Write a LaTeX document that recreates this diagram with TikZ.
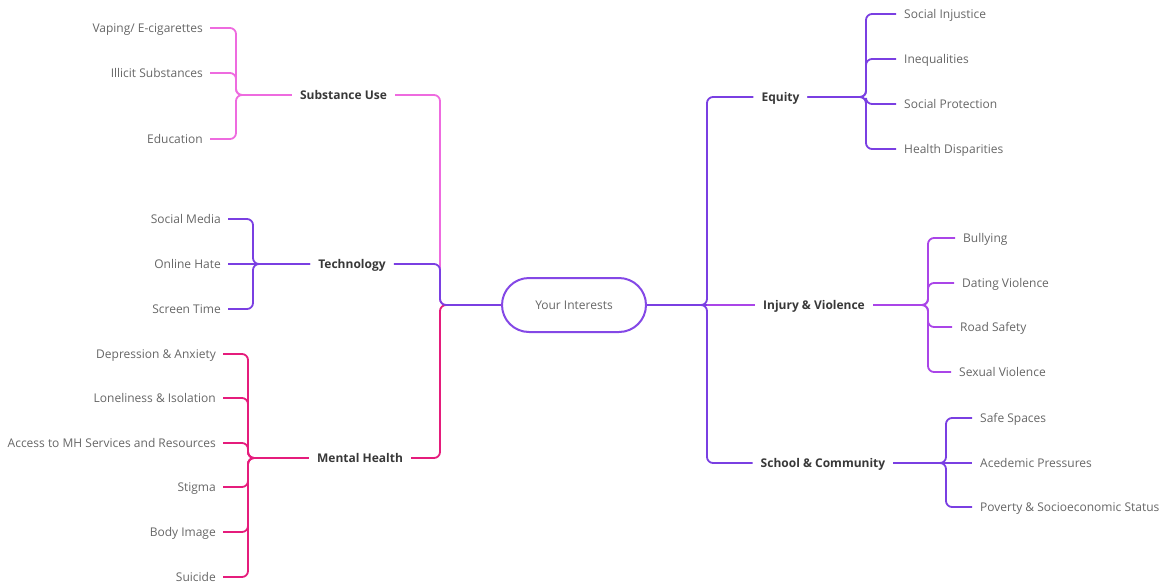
\documentclass[tikz,border=0pt]{standalone}
\usepackage{fontspec}
\setmainfont{Open Sans}
\definecolor{cSub}{HTML}{EE6BDF}
\definecolor{cTec}{HTML}{7A3FE2}
\definecolor{cMH}{HTML}{E51C7C}
\definecolor{cEq}{HTML}{7A3FE2}
\definecolor{cIV}{HTML}{AA45E8}
\definecolor{cSC}{HTML}{7A3FE2}
\definecolor{cCen}{HTML}{8448E6}
\definecolor{txtChild}{HTML}{666666}
\definecolor{txtCat}{HTML}{383838}
\begin{document}
\begin{tikzpicture}[x=1pt,y=-1pt,
  txtbox/.style={inner ysep=0pt,text height=8.4pt,text depth=0pt,font=\fontsize{12}{14}\selectfont},
  leafL/.style={txtbox,anchor=east,inner xsep=7pt,text=txtChild},
  leafR/.style={txtbox,anchor=west,inner xsep=8pt,text=txtChild},
  cat/.style={txtbox,inner xsep=8pt,text=txtCat,font=\fontsize{12}{14}\selectfont\bfseries},
  link/.style={line width=1.8pt,rounded corners=6pt},
  center/.style={draw=cCen,line width=2pt,rounded corners=27pt,minimum width=144pt,minimum height=54pt,text=txtChild,text height=8.4pt,text depth=0pt,font=\fontsize{12}{14}\selectfont}]
\useasboundingbox (0,0) rectangle (1163,584);
% centre
\node[center] (yi) at (574,305) {Your Interests};
\coordinate (ltj) at (440,305);
\coordinate (rtj) at (707,305);
% left categories
\node[cat] (su) at (343.5,95) {Substance Use};
\node[cat] (te) at (352,264) {Technology};
\node[cat] (mh) at (360,458) {Mental Health};
% right categories
\node[cat] (eq) at (780.5,97) {Equity};
\node[cat] (iv) at (814,305) {Injury \& Violence};
\node[cat] (sc) at (823,463) {School \& Community};
% joints
\coordinate (suj) at (236,95);
\coordinate (tej) at (253,264);
\coordinate (mhj) at (248,458);
\coordinate (eqj) at (866,97);
\coordinate (ivj) at (928,305);
\coordinate (scj) at (946,463);
% trunk links
\draw[link,cSub] (su.east) -| (ltj) -- (yi.west);
\draw[link,cMH] (mh.east) -| (ltj) -- (yi.west);
\draw[link,cTec] (te.east) -| (ltj) -- (yi.west);
\draw[link,cEq] (yi.east) -- (rtj) |- (eq.west);
\draw[link,cSC] (yi.east) -- (rtj) |- (sc.west);
\draw[link,cIV] (rtj) -- (iv.west);
\draw[link,cEq] (yi.east) -- (rtj);
% substance children
\node[leafL] (s1) at (210,28) {Vaping/ E-cigarettes};
\node[leafL] (s2) at (210,73) {Illicit Substances};
\node[leafL] (s3) at (210,139) {Education};
\foreach \n in {s1,s2,s3} \draw[link,cSub] (\n.east) -| (suj) -- (su.west);
% technology children
\node[leafL] (t1) at (228,219) {Social Media};
\node[leafL] (t2) at (228,264) {Online Hate};
\node[leafL] (t3) at (228,309) {Screen Time};
\foreach \n in {t1,t3} \draw[link,cTec] (\n.east) -| (tej) -- (te.west);
\draw[link,cTec] (t2.east) -- (te.west);
% mental health children
\node[leafL] (m1) at (223,354) {Depression \& Anxiety};
\node[leafL] (m2) at (223,398) {Loneliness \& Isolation};
\node[leafL] (m3) at (223,443) {Access to MH Services and Resources};
\node[leafL] (m4) at (223,487) {Stigma};
\node[leafL] (m5) at (223,532) {Body Image};
\node[leafL] (m6) at (223,577) {Suicide};
\foreach \n in {m1,m2,m3,m4,m5,m6} \draw[link,cMH] (\n.east) -| (mhj) -- (mh.west);
% equity children
\node[leafR] (e1) at (896,14) {Social Injustice};
\node[leafR] (e2) at (896,59) {Inequalities};
\node[leafR] (e3) at (896,104) {Social Protection};
\node[leafR] (e4) at (896,149) {Health Disparities};
\foreach \n in {e1,e2,e3,e4} \draw[link,cEq] (eq.east) -- (eqj) |- (\n.west);
% injury children
\node[leafR] (i1) at (955,238) {Bullying};
\node[leafR] (i2) at (954,283) {Dating Violence};
\node[leafR] (i3) at (952,327) {Road Safety};
\node[leafR] (i4) at (951,372) {Sexual Violence};
\foreach \n in {i1,i2,i3,i4} \draw[link,cIV] (iv.east) -- (ivj) |- (\n.west);
% school children
\node[leafR] (c1) at (972,418) {Safe Spaces};
\node[leafR] (c2) at (972,463) {Acedemic Pressures};
\node[leafR] (c3) at (972,507) {Poverty \& Socioeconomic Status};
\foreach \n in {c1,c3} \draw[link,cSC] (sc.east) -- (scj) |- (\n.west);
\draw[link,cSC] (sc.east) -- (c2.west);
\end{tikzpicture}
\end{document}
